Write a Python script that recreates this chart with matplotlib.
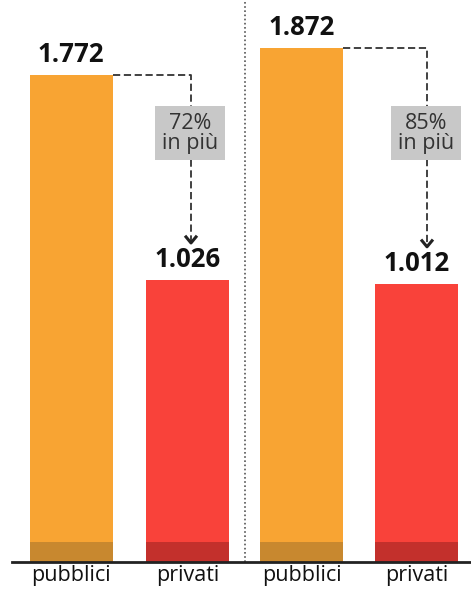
import matplotlib.pyplot as plt

# data
groups = ["A", "B"]
categories = ["pubblici", "privati"]
pubblici = [1772, 1872]
privati = [1026, 1012]
value_labels = [["1.772", "1.026"], ["1.872", "1.012"]]
diff_labels = ["72%\nin più", "85%\nin più"]

orange = "#f8a433"
red = "#f9423a"
orange_dark = "#c8882f"
red_dark = "#c3302c"

plt.rcParams['font.family'] = ['Open Sans', 'DejaVu Sans']

fig = plt.figure(figsize=(4.71, 5.90), dpi=100)
base_frac = (590 - 562) / 590
ax = fig.add_axes([0, base_frac, 1, 1 - base_frac])
ax.set_xlim(0, 471)
ax.set_ylim(0, 2045)
ax.axis('off')

centers = [[71, 187.5], [301.5, 416.5]]
width = 83
band = 73
arrow_x = [191, 427]

for g in range(len(groups)):
    vals = [pubblici[g], privati[g]]
    cols = [orange, red]
    darks = [orange_dark, red_dark]
    for i in range(2):
        x = centers[g][i]
        ax.bar(x, vals[i], width=width, color=cols[i], zorder=2)
        ax.bar(x, band, width=width, color=darks[i], zorder=3)
        ax.text(x, vals[i] + 25, value_labels[g][i], ha='center', va='bottom',
                fontsize=18.5, fontweight='bold', color='#111111')
        ax.text(x, -12, categories[i], ha='center', va='top', fontsize=15.5,
                color='#111111', clip_on=False)

    # dashed connector
    top = vals[0]
    x0 = centers[g][0] + width / 2
    tip = vals[1] + 135
    ax.plot([x0, arrow_x[g], arrow_x[g]], [top, top, tip],
            color='#333333', lw=1.3, ls=(0, (4, 2)), zorder=1)
    ax.plot([arrow_x[g] - 5, arrow_x[g], arrow_x[g] + 5],
            [tip + 22, tip, tip + 22], color='#222222', lw=2.2, zorder=1)
    ax.text(arrow_x[g] - 1, 1560, diff_labels[g], ha='center', va='center',
            fontsize=15.5, color='#333333', linespacing=0.95,
            bbox=dict(boxstyle='square,pad=0.3', fc='#c8c8c8', ec='none'),
            zorder=4)

# separator and baseline
ax.plot([245, 245], [0, 2045], color='#555555', lw=1.2, ls=(0, (1, 1.5)))
ax.plot([12, 471], [0, 0], color='#222222', lw=2, clip_on=False, zorder=5)

fig.savefig("out.png", dpi=100)
